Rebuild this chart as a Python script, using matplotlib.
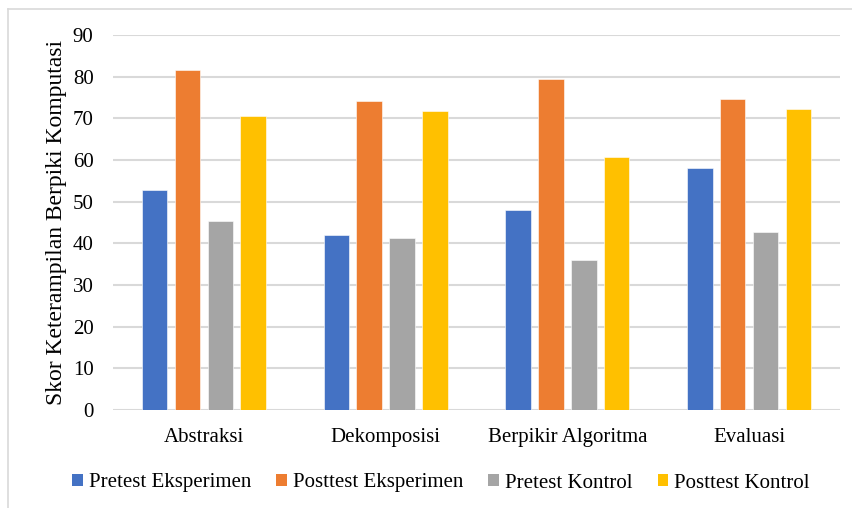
import matplotlib
matplotlib.use("Agg")
import matplotlib.pyplot as plt
from matplotlib.lines import Line2D
from matplotlib.patches import Patch
import numpy as np

categories = ["Abstraksi", "Dekomposisi", "Berpikir Algoritma", "Evaluasi"]
series_names = ["Pretest Eksperimen", "Posttest Eksperimen", "Pretest Kontrol", "Posttest Kontrol"]
pretest_eksperimen = [52.9, 42.0, 48.0, 58.0]
posttest_eksperimen = [81.7, 74.1, 79.4, 74.6]
pretest_kontrol = [45.4, 41.2, 36.1, 42.6]
posttest_kontrol = [70.5, 71.8, 60.6, 72.3]
yticks = [0, 10, 20, 30, 40, 50, 60, 70, 80, 90]
ylabel = "Skor Keterampilan Berpiki Komputasi"

colors = ["#4472C4", "#ED7D31", "#A5A5A5", "#FFC000"]
series = [pretest_eksperimen, posttest_eksperimen, pretest_kontrol, posttest_kontrol]

plt.rcParams["font.family"] = ["Liberation Serif", "DejaVu Serif"]

W, H = 853, 508
fig = plt.figure(figsize=(W / 100, H / 100), dpi=100)
ax = fig.add_axes([113 / W, 1 - 410 / H, (840 - 113) / W, (410 - 35) / H])

x = np.arange(len(categories))
step = 0.181
width = 0.140
offsets = (np.arange(4) - 1.5) * step
for vals, off, c in zip(series, offsets, colors):
    ax.bar(x + off, vals, width, color=c, edgecolor="white", linewidth=0.4, zorder=3)

ax.set_xlim(-0.5, len(categories) - 0.5)
ax.set_ylim(0, 90)
ax.set_yticks(yticks)
ax.set_xticks(x)
ax.set_xticklabels(categories, fontsize=15)
ax.tick_params(axis="y", labelsize=15, length=0, pad=14)
ax.tick_params(axis="x", length=0, pad=13)
ax.yaxis.grid(True, color="#D9D9D9", linewidth=1.5, zorder=0)
for s in ax.spines.values():
    s.set_visible(False)
ax.set_ylabel(ylabel, fontsize=17, labelpad=4)

handles = [Patch(facecolor=c, edgecolor="none") for c in colors]
fig.legend(handles, series_names, loc="center", bbox_to_anchor=(441 / W, 1 - 483 / H),
           ncol=4, frameon=False, fontsize=15, handlelength=0.5, handleheight=0.5,
           handletextpad=0.3, columnspacing=1.2, borderaxespad=0)

# chart frame
fig.add_artist(Line2D([8 / W, 8 / W], [0, 1 - 9 / H], transform=fig.transFigure,
                      color="#D9D9D9", linewidth=1.2))
fig.add_artist(Line2D([8 / W, 1], [1 - 9 / H, 1 - 9 / H], transform=fig.transFigure,
                      color="#D9D9D9", linewidth=1.2))

fig.savefig("out.png", dpi=100)
